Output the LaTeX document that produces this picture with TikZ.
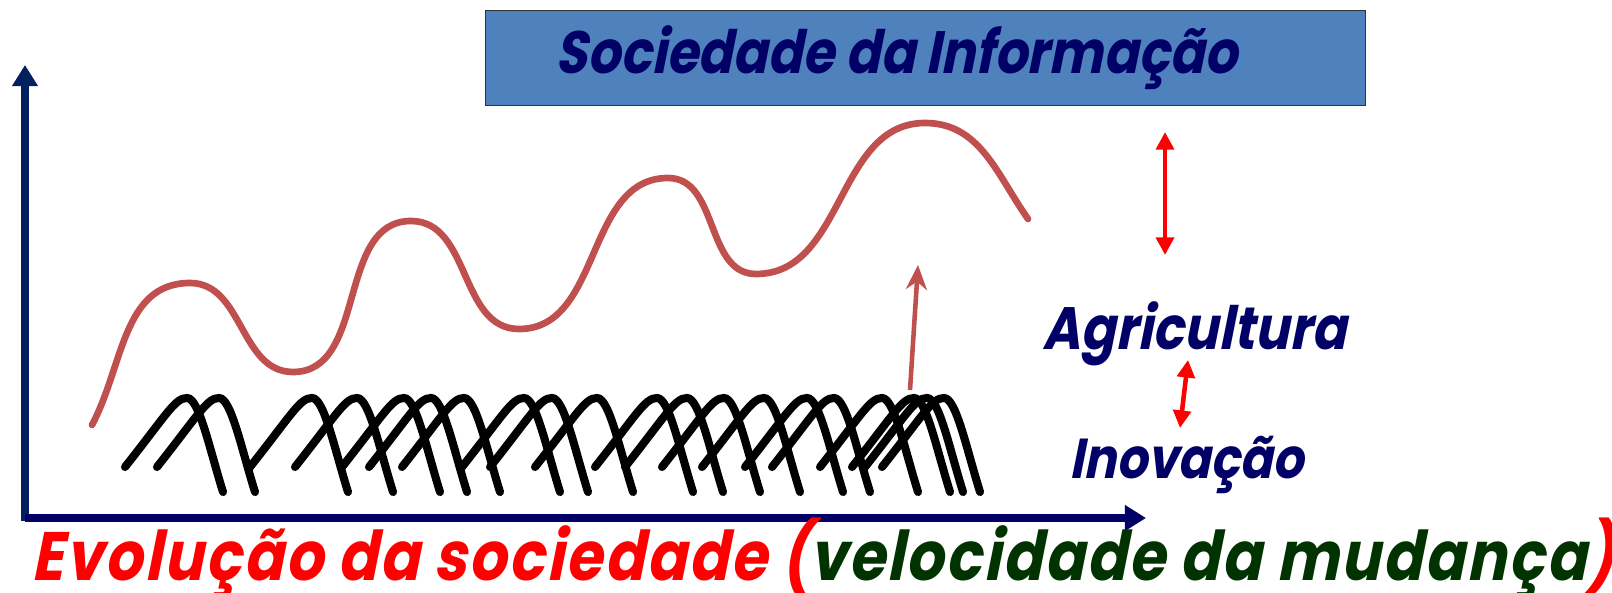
\documentclass[tikz,border=0pt]{standalone}
\usepackage{fontspec}
\newfontfamily\gothfont[FakeSlant=0.2, BoldFeatures={FakeSlant=0.2}, FakeStretch=0.86]{Poppins}
\newfontfamily\spacedfont[FakeSlant=0.2, BoldFeatures={FakeSlant=0.2}, FakeStretch=0.86, LetterSpace=3]{Poppins}
\usetikzlibrary{arrows.meta}
\definecolor{axisblue}{HTML}{002060}
\definecolor{axisnavy}{HTML}{000066}
\definecolor{textnavy}{HTML}{000066}
\definecolor{boxblue}{HTML}{4F81BD}
\definecolor{wavered}{HTML}{C0504D}
\definecolor{darkgreen}{HTML}{003300}

\begin{document}
\begin{tikzpicture}[
    tagtext/.style = {font=\gothfont\bfseries\fontsize{#1}{#1}\selectfont, inner sep=0, anchor=base west},
    hump/.style = {line width=2.3pt, line cap=round},
    twoway/.style = {red, line width=1.3pt, {Triangle[width=5pt,length=5pt]}-{Triangle[width=5pt,length=5pt]}}]
    \useasboundingbox (0, 0) rectangle (16.12, 5.92);
    % eixos
    \coordinate (origin) at (0.25, 0.74);
    \coordinate (ybot) at (0.25, 0.71);
    \coordinate (ytop) at (0.25, 5.27);
    \coordinate (xend) at (11.46, 0.74);
    \draw [axisblue, line width=2pt, -{Triangle[width=7pt,length=6pt]}] (ybot) -- (ytop);
    \draw [axisnavy, line width=2pt, -{Triangle[width=7pt,length=6pt]}] (origin) -- (xend);
    % caixa
    \node [draw=black!80, fill=boxblue, minimum width=8.8cm, minimum height=0.95cm, anchor=north west] (box) at (4.85, 5.82) {};
    \node [tagtext=17, textnavy] (soc) at (5.55, 5.18) {Sociedade da Informação};
    % onda
    \draw [wavered, line width=1.9pt, line cap=round] (0.92, 1.67) to[out=62, in=180] (1.90, 3.09)
        to[out=0, in=180] (2.93, 2.20) to[out=0, in=180] (4.11, 3.71)
        to[out=0, in=180] (5.19, 2.63) to[out=0, in=180] (6.68, 4.14)
        to[out=0, in=180] (7.56, 3.18) to[out=0, in=180] (9.25, 4.69)
        to[out=0, in=125] (10.28, 3.73);
    \coordinate (rb) at (9.10, 2.02);
    \coordinate (rt) at (9.18, 3.27);
    \draw [wavered, line width=1.3pt, -{Stealth[length=7pt,width=6pt]}] (rb) -- (rt);
    % arcos
    \foreach \x in {1.25, 1.57, 2.50, 2.95, 3.42, 3.69, 4.02, 4.62, 4.90, 5.35, 5.95, 6.25, 6.62, 7.02, 7.45, 7.72, 8.20, 8.52, 8.65, 8.82}
        \draw [hump] (\x, 1.25) .. controls ({\x+0.42}, 1.78) and ({\x+0.5}, 1.94) .. ({\x+0.62}, 1.94)
            .. controls ({\x+0.74}, 1.94) and ({\x+0.84}, 1.45) .. ({\x+0.98}, 1.00);
    % setas
    \coordinate (a1) at (11.65, 4.60);
    \coordinate (a2) at (11.65, 3.37);
    \coordinate (b1) at (11.88, 2.32);
    \coordinate (b2) at (11.80, 1.64);
    \draw [twoway] (a1) -- (a2);
    \draw [twoway] (b1) -- (b2);
    \node [tagtext=17, textnavy] (agri) at (10.42, 2.42) {Agricultura};
    \node [tagtext=16, textnavy] (inov) at (10.69, 1.14) {Inovação};
    \node [tagtext=19.5, font=\spacedfont\bfseries\fontsize{19.5}{19.5}\selectfont, red] (evo) at (0.31, 0.12) {Evolução da sociedade (\textcolor{darkgreen}{velocidade da mudança})};
\end{tikzpicture}
\end{document}
